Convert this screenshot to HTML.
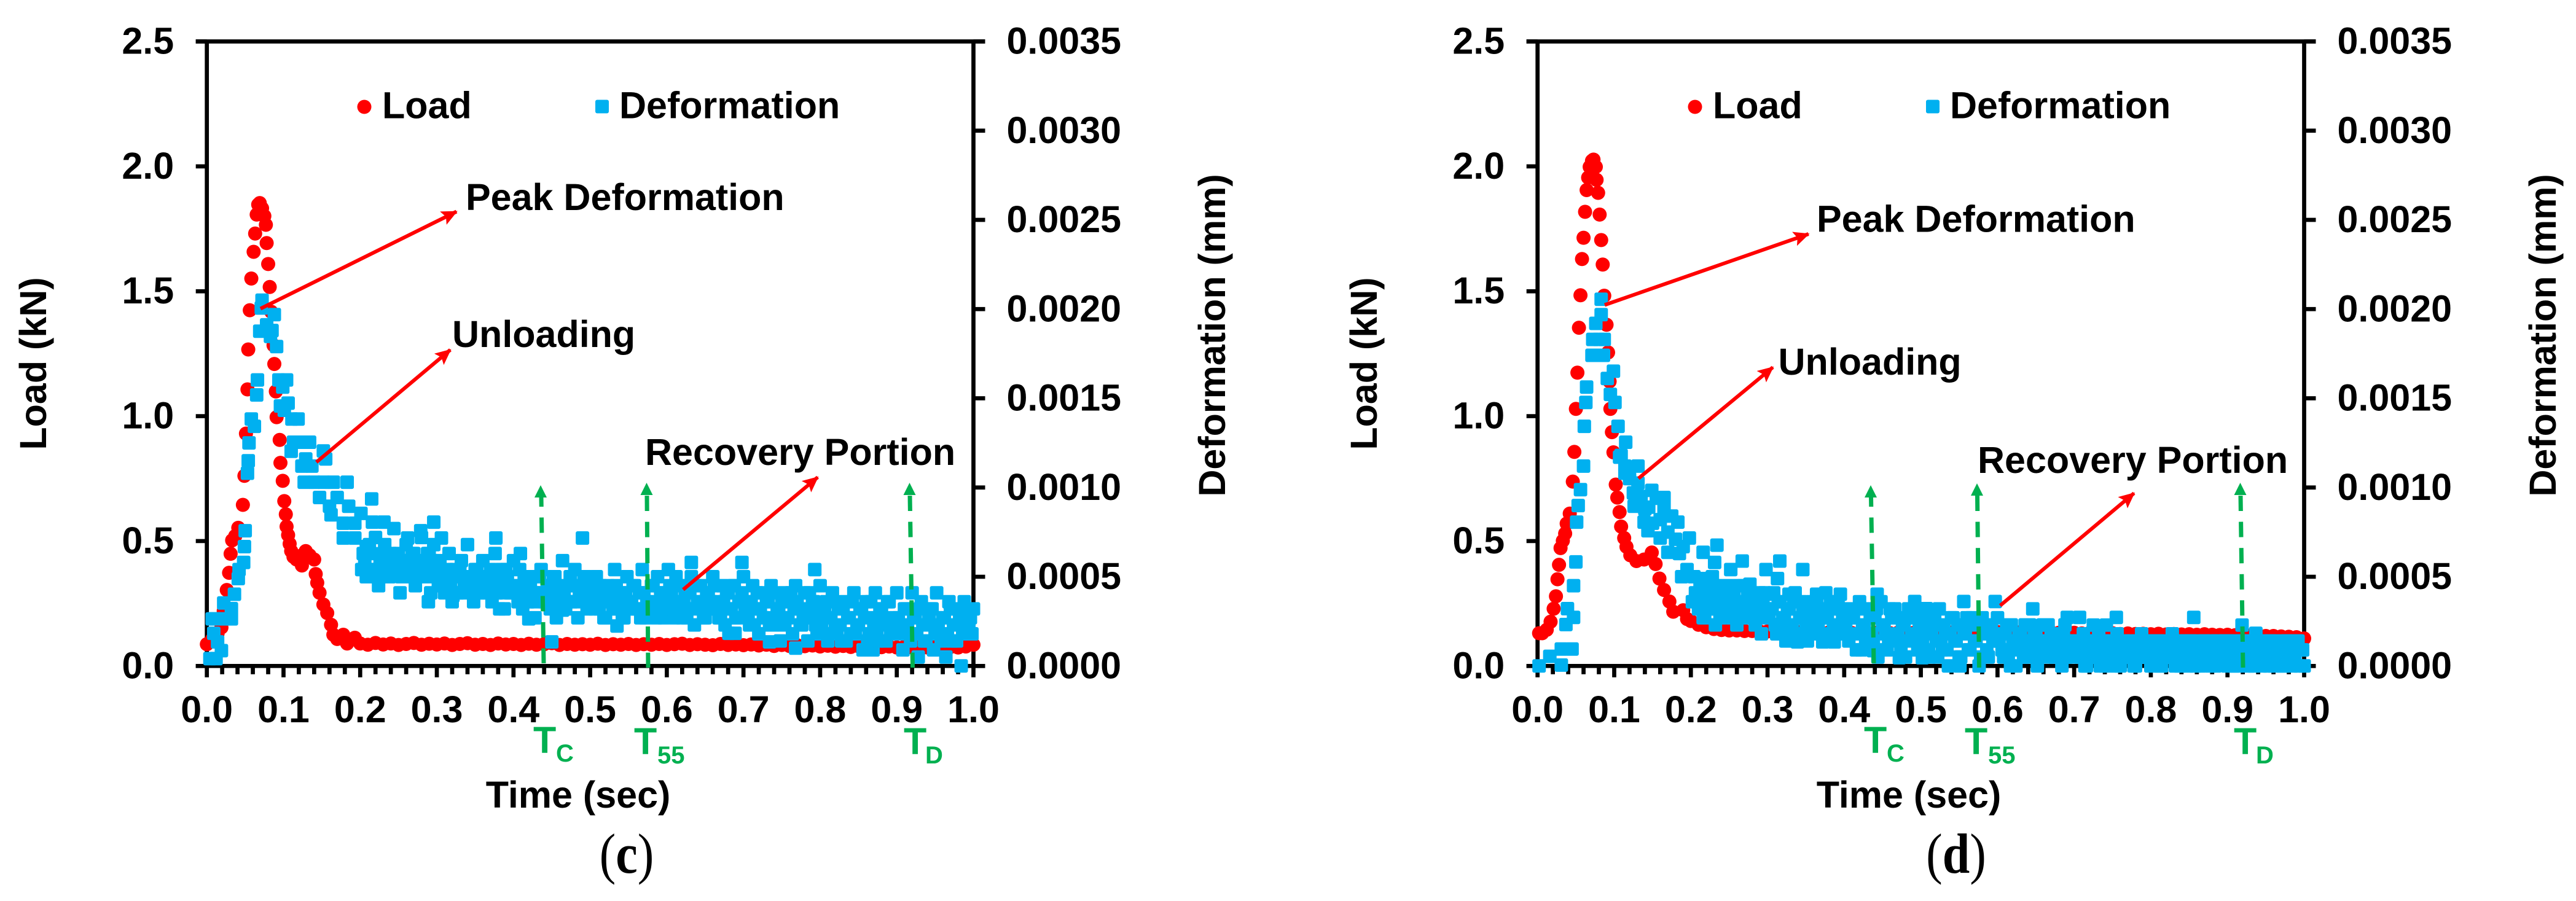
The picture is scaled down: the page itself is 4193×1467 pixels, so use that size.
<!DOCTYPE html>
<html lang="en">
<head>
<meta charset="utf-8">
<title>Load and deformation versus time</title>
<style>
html,body{margin:0;padding:0;background:#fff;width:4193px;height:1467px;overflow:hidden}
svg{display:block}
text{font-family:"Liberation Sans",sans-serif;font-weight:bold;font-size:61px;fill:#000}
.green{fill:#00B050}
.sub{font-size:40px}
.panel-label{font-family:"Liberation Serif",serif;font-weight:normal;font-size:80px}
.panel-label tspan{font-weight:bold}
.red-arrow{stroke:#FF0000;stroke-width:6;fill:none}
.green-line{stroke:#00B050;stroke-width:7;stroke-dasharray:25 17.6;fill:none}
</style>
</head>
<body>
<svg xmlns="http://www.w3.org/2000/svg" width="4193" height="1467" viewBox="0 0 4193 1467">
<defs>
<marker id="red-head" markerUnits="userSpaceOnUse" markerWidth="30" markerHeight="26" refX="24" refY="12" orient="auto">
<path d="M0,0 L26,12 L0,24 L5,12 z" fill="#FF0000"/>
</marker>
</defs>
<rect width="4193" height="1467" fill="#fff"/>

<!-- Panel C -->
<g>
<g id="axes-c"></g>
<g id="load-c"></g>
<g id="deformation-c"></g>

<text x="75" y="592" transform="rotate(-90 75 592)" text-anchor="middle">Load (kN)</text>
<text x="1994" y="546" transform="rotate(-90 1994 546)" text-anchor="middle">Deformation (mm)</text>
<text x="941" y="1315" text-anchor="middle">Time (sec)</text>
<text transform="translate(1020 1421) scale(1 1.15)" text-anchor="middle" class="panel-label">(<tspan>c</tspan>)</text>

<circle cx="593" cy="174" r="11.5" fill="#FF0000"/>
<text x="622" y="192.5">Load</text>
<rect x="969" y="162.5" width="22" height="22" rx="3" fill="#00B0F0"/>
<text x="1008" y="192.5">Deformation</text>

<g>
<line class="green-line" x1="881" y1="809" x2="885" y2="1080" stroke-dashoffset="9"/>
<polygon points="880,790 870,810 890,810" fill="#00B050"/>
<text x="868" y="1226" class="green">T</text>
<text x="905" y="1240" class="green sub">C</text>
</g>
<g>
<line class="green-line" x1="1053" y1="807" x2="1055" y2="1087"/>
<polygon points="1052.5,786 1042.5,806 1062.5,806" fill="#00B050"/>
<text x="1032" y="1228" class="green">T</text>
<text x="1070" y="1243" class="green sub">55</text>
</g>
<g>
<line class="green-line" x1="1481" y1="807" x2="1485.5" y2="1087"/>
<polygon points="1480.5,786 1470.5,806 1490.5,806" fill="#00B050"/>
<text x="1471" y="1228" class="green">T</text>
<text x="1506" y="1243" class="green sub">D</text>
</g>

<line class="red-arrow" x1="424" y1="502.6" x2="743" y2="344.5" marker-end="url(#red-head)"/>
<text x="758" y="342">Peak Deformation</text>
<line class="red-arrow" x1="515" y1="752.5" x2="733" y2="569.6" marker-end="url(#red-head)"/>
<text x="736" y="565">Unloading</text>
<line class="red-arrow" x1="1112" y1="960" x2="1331" y2="777" marker-end="url(#red-head)"/>
<text x="1050" y="757">Recovery Portion</text>
</g>

<!-- Panel D -->
<g>
<g id="axes-d"></g>
<g id="load-d"></g>
<g id="deformation-d"></g>

<text x="2241" y="592" transform="rotate(-90 2241 592)" text-anchor="middle">Load (kN)</text>
<text x="4160" y="546" transform="rotate(-90 4160 546)" text-anchor="middle">Deformation (mm)</text>
<text x="3107" y="1315" text-anchor="middle">Time (sec)</text>
<text transform="translate(3184 1421) scale(1 1.15)" text-anchor="middle" class="panel-label">(<tspan>d</tspan>)</text>

<circle cx="2759" cy="174" r="11.5" fill="#FF0000"/>
<text x="2788" y="192.5">Load</text>
<rect x="3135" y="162.5" width="22" height="22" rx="3" fill="#00B0F0"/>
<text x="3174" y="192.5">Deformation</text>

<g>
<line class="green-line" x1="3045.5" y1="809" x2="3050" y2="1080" stroke-dashoffset="9"/>
<polygon points="3045,790 3035,810 3055,810" fill="#00B050"/>
<text x="3034" y="1226" class="green">T</text>
<text x="3071" y="1240" class="green sub">C</text>
</g>
<g>
<line class="green-line" x1="3218.5" y1="807" x2="3221.5" y2="1087"/>
<polygon points="3218,787 3208,807 3228,807" fill="#00B050"/>
<text x="3198" y="1228" class="green">T</text>
<text x="3236" y="1243" class="green sub">55</text>
</g>
<g>
<line class="green-line" x1="3647" y1="807" x2="3651" y2="1087"/>
<polygon points="3646.5,786 3636.5,806 3656.5,806" fill="#00B050"/>
<text x="3636" y="1228" class="green">T</text>
<text x="3672" y="1243" class="green sub">D</text>
</g>

<line class="red-arrow" x1="2612" y1="496.5" x2="2943.7" y2="381" marker-end="url(#red-head)"/>
<text x="2957" y="377.5">Peak Deformation</text>
<line class="red-arrow" x1="2667" y1="779" x2="2885.7" y2="598" marker-end="url(#red-head)"/>
<text x="2894.5" y="610">Unloading</text>
<line class="red-arrow" x1="3255.7" y1="986" x2="3473.6" y2="803" marker-end="url(#red-head)"/>
<text x="3219" y="770">Recovery Portion</text>
</g>
</svg>

<script>
const timeTicks = [0, 0.1, 0.2, 0.3, 0.4, 0.5, 0.6, 0.7, 0.8, 0.9, 1.0];
const timeTickLabels = ['0.0','0.1','0.2','0.3','0.4','0.5','0.6','0.7','0.8','0.9','1.0'];
const timeMinorTicks = [0.02,0.04,0.06,0.08,0.12,0.14,0.16,0.18,0.22,0.24,0.26,0.28,0.32,0.34,0.36,0.38,0.42,0.44,0.46,0.48,0.52,0.54,0.56,0.58,0.62,0.64,0.66,0.68,0.72,0.74,0.76,0.78,0.82,0.84,0.86,0.88,0.92,0.94,0.96,0.98];
const loadTicks = [0, 0.5, 1.0, 1.5, 2.0, 2.5];
const loadTickLabels = ['0.0','0.5','1.0','1.5','2.0','2.5'];
const deformationTicks = [0, 0.0005, 0.001, 0.0015, 0.002, 0.0025, 0.003, 0.0035];
const deformationTickLabels = ['0.0000','0.0005','0.0010','0.0015','0.0020','0.0025','0.0030','0.0035'];

const loadTailTimes = [.2,.21,.22,.23,.24,.25,.26,.27,.28,.29,.3,.31,.32,.33,.34,.35,.36,.37,.38,.39,.4,.41,.42,.43,.44,.45,.46,.47,.48,.49,.5,.51,.52,.53,.54,.55,.56,.57,.58,.59,.6,.61,.62,.63,.64,.65,.66,.67,.68,.69,.7,.71,.72,.73,.74,.75,.76,.77,.78,.79,.8,.81,.82,.83,.84,.85,.86,.87,.88,.89,.9,.91,.92,.93,.94,.95,.96,.97,.98,.99,1.0];

const deformationTailTimes = [
.204,.208,.212,.216,.22,.224,.228,.232,.236,.24,.244,.248,.252,.256,.26,.264,.268,.272,.276,.28,.284,.288,.292,.296,.3,
.304,.308,.312,.316,.32,.324,.328,.332,.336,.34,.344,.348,.352,.356,.36,.364,.368,.372,.376,.38,.384,.388,.392,.396,.4,
.404,.408,.412,.416,.42,.424,.428,.432,.436,.44,.444,.448,.452,.456,.46,.464,.468,.472,.476,.48,.484,.488,.492,.496,.5,
.504,.508,.512,.516,.52,.524,.528,.532,.536,.54,.544,.548,.552,.556,.56,.564,.568,.572,.576,.58,.584,.588,.592,.596,.6,
.604,.608,.612,.616,.62,.624,.628,.632,.636,.64,.644,.648,.652,.656,.66,.664,.668,.672,.676,.68,.684,.688,.692,.696,.7,
.704,.708,.712,.716,.72,.724,.728,.732,.736,.74,.744,.748,.752,.756,.76,.764,.768,.772,.776,.78,.784,.788,.792,.796,.8,
.804,.808,.812,.816,.82,.824,.828,.832,.836,.84,.844,.848,.852,.856,.86,.864,.868,.872,.876,.88,.884,.888,.892,.896,.9,
.904,.908,.912,.916,.92,.924,.928,.932,.936,.94,.944,.948,.952,.956,.96,.964,.968,.972,.976,.98,.984,.988,.992,.996,1.0];

const deformationFillTimes = [
.202,.206,.21,.214,.218,.222,.226,.23,.234,.238,.242,.246,.25,.254,.258,.262,.266,.27,.274,.278,.282,.286,.29,.294,.298,
.302,.306,.31,.314,.318,.322,.326,.33,.334,.338,.342,.346,.35,.354,.358,.362,.366,.37,.374,.378,.382,.386,.39,.394,.398,
.402,.406,.41,.414,.418,.422,.426,.43,.434,.438,.442,.446,.45,.454,.458,.462,.466,.47,.474,.478,.482,.486,.49,.494,.498,
.502,.506,.51,.514,.518,.522,.526,.53,.534,.538,.542,.546,.55,.554,.558,.562,.566,.57,.574,.578,.582,.586,.59,.594,.598,
.602,.606,.61,.614,.618,.622,.626,.63,.634,.638,.642,.646,.65,.654,.658,.662,.666,.67,.674,.678,.682,.686,.69,.694,.698,
.702,.706,.71,.714,.718,.722,.726,.73,.734,.738,.742,.746,.75,.754,.758,.762,.766,.77,.774,.778,.782,.786,.79,.794,.798,
.802,.806,.81,.814,.818,.822,.826,.83,.834,.838,.842,.846,.85,.854,.858,.862,.866,.87,.874,.878,.882,.886,.89,.894,.898,
.902,.906,.91,.914,.918,.922,.926,.93,.934,.938,.942,.946,.95,.954,.958,.962,.966,.97,.974,.978,.982,.986,.99,.994,.998];

/* Panel (c) */
const loadEarlyTimesC = [0,.007,.014,.019,.022,.026,.029,.031,.033,.037,.041,.047,.049,.051,.053,.054,.056,.058,.061,.063,.065,.067,.069,.072,.075,.077,.078,.08,.082,.084,.087,.088,.09,.091,.095,.096,.099,.101,.103,.104,.106,.108,.11,.113,.117,.124,.124,.129,.134,.14,.142,.144,.147,.152,.157,.162,.165,.17,.178,.183,.193];
const loadEarlyC = [.087,.107,.13,.154,.22,.304,.373,.449,.503,.52,.553,.645,.761,.93,1.107,1.267,1.424,1.551,1.658,1.731,1.807,1.847,1.853,1.832,1.801,1.766,1.693,1.609,1.517,1.418,1.284,1.209,1.099,.996,.905,.813,.741,.66,.607,.558,.524,.489,.46,.437,.426,.402,.443,.46,.443,.426,.368,.333,.293,.246,.212,.165,.125,.108,.125,.09,.113];
const loadTailC = [.09,.085,.092,.086,.09,.084,.088,.092,.085,.089,
.086,.09,.084,.088,.091,.085,.088,.084,.09,.086,
.088,.084,.089,.085,.087,.091,.084,.088,.085,.087,
.085,.089,.084,.087,.085,.088,.084,.087,.085,.088,
.084,.087,.089,.084,.087,.085,.083,.088,.084,.086,
.083,.086,.082,.085,.08,.084,.08,.083,.079,.082,
.078,.081,.077,.08,.076,.079,.076,.078,.075,.078,
.074,.077,.074,.076,.074,.075,.073,.076,.074,.078,.085];
const deformationEarlyTimesC = [.004,.012,.019,.009,.014,.007,.011,.022,.032,.022,.032,.036,.041,.042,.048,.049,.05,.053,.054,.055,.058,.062,.065,.066,.069,.071,.072,.078,.081,.083,.085,.088,.091,.094,.099,.104,.096,.106,.101,.111,.119,.113,.124,.134,.152,.11,.129,.155,.137,.124,.127,.14,.152,.165,.183,.147,.17,.215,.185,.16,.162,.201,.178,.231,.216,.193,.178,.193,.208,.296,.279,.262,.306,.377,.49,.42,.45,.535,.289,.321,.382,.464,.409,.602,.632,.698,.793,.734,.768,.869,.681,.689];
const deformationEarlyC = [.000041,.000041,.000086,.000183,.000135,.000264,.000264,.000264,.000264,.000353,.000321,.000402,.00049,.00054,.00058,.000669,.000758,.00108,.00115,.00125,.001384,.001343,.001519,.001603,.001876,.002006,.00205,.001912,.00188,.001847,.00188,.001969,.00179,.001603,.001563,.001603,.001457,.001473,.001433,.001384,.001384,.001254,.001254,.001254,.001205,.001203,.00116,.00116,.00112,.00112,.00103,.00103,.00103,.00103,.00103,.000944,.000944,.000936,.000895,.000895,.000847,.000855,.0008,.000806,.000806,.0008,.000717,.000717,.000669,.000806,.000758,.000717,.000717,.000717,.000717,.000264,.000135,.000224,.00036,.000394,.00032,.000313,.00063,.00054,.00058,.00058,.00054,.000135,.0001,.00009,.000183,.000183];
const deformationTailC = [
.00063,.00050,.00068,.00054,.00072,.00045,.00059,.00068,.00050,.00063,.00077,.00054,.00041,.00059,.00068,.00050,.00063,.00045,.00059,.00072,.00050,.00063,.00041,.00068,.00054,
.00059,.00045,.00050,.00063,.00036,.00054,.00041,.00059,.00045,.00068,.00050,.00036,.00054,.00041,.00059,.00045,.00050,.00036,.00063,.00041,.00054,.00032,.00050,.00041,.00059,
.00041,.00054,.00032,.00045,.00036,.00050,.00027,.00041,.00054,.00036,.00045,.00032,.00050,.00027,.00041,.00059,.00032,.00045,.00036,.00054,.00027,.00041,.00050,.00032,.00045,
.00036,.00050,.00032,.00041,.00027,.00045,.00036,.00054,.00032,.00041,.00027,.00050,.00036,.00045,.00032,.00041,.00054,.00027,.00036,.00045,.00032,.00050,.00041,.00027,.00036,
.00045,.00032,.00050,.00036,.00027,.00041,.00032,.00050,.00023,.00036,.00045,.00027,.00041,.00032,.00050,.00036,.00027,.00045,.00023,.00041,.00032,.00045,.00027,.00036,.00050,
.00036,.00023,.00045,.00032,.00018,.00041,.00027,.00036,.00045,.00023,.00032,.00014,.00041,.00027,.00036,.00018,.00045,.00032,.00023,.00041,.00014,.00027,.00036,.00018,.00045,
.00027,.00036,.00018,.00041,.00023,.00032,.00014,.00036,.00027,.00018,.00041,.00023,.00032,.00009,.00036,.00018,.00027,.00041,.00014,.00032,.00023,.00036,.00018,.00027,.00041,
.00023,.00009,.00032,.00018,.00041,.00027,.00005,.00036,.00014,.00023,.00032,.00009,.00041,.00018,.00027,.00005,.00036,.00014,.00032,.00023,.00000,.00036,.00018,.00027,.00032];
const deformationFillC = [
.00054,.00059,.00050,.00063,.00054,.00050,.00059,.00063,.00054,.00050,.00059,.00054,.00063,.00050,.00054,.00059,.00050,.00063,.00054,.00059,.00050,.00054,.00063,.00059,.00050,
.00045,.00050,.00041,.00054,.00045,.00041,.00050,.00054,.00041,.00045,.00050,.00041,.00054,.00045,.00050,.00041,.00045,.00054,.00050,.00041,.00045,.00050,.00054,.00041,.00045,
.00045,.00036,.00041,.00050,.00036,.00045,.00041,.00036,.00050,.00041,.00036,.00045,.00041,.00050,.00036,.00045,.00041,.00036,.00050,.00045,.00036,.00041,.00045,.00050,.00036,
.00041,.00032,.00036,.00045,.00027,.00036,.00041,.00032,.00045,.00036,.00027,.00041,.00032,.00036,.00045,.00032,.00027,.00041,.00036,.00032,.00045,.00027,.00036,.00041,.00032,
.00036,.00041,.00027,.00032,.00045,.00036,.00027,.00041,.00032,.00045,.00036,.00032,.00027,.00041,.00036,.00045,.00032,.00027,.00036,.00041,.00032,.00045,.00027,.00036,.00041,
.00032,.00027,.00036,.00023,.00041,.00032,.00027,.00036,.00023,.00041,.00027,.00032,.00036,.00023,.00027,.00041,.00032,.00036,.00023,.00027,.00032,.00041,.00036,.00023,.00032,
.00023,.00032,.00014,.00027,.00036,.00018,.00023,.00032,.00014,.00027,.00036,.00018,.00023,.00032,.00027,.00014,.00036,.00023,.00018,.00032,.00027,.00014,.00036,.00023,.00018,
.00027,.00018,.00032,.00023,.00014,.00027,.00018,.00032,.00023,.00014,.00027,.00032,.00018,.00023,.00014,.00027,.00018,.00032,.00023,.00014,.00027,.00018,.00032,.00023,.00018];

/* Panel (d) */
const loadEarlyTimesD = [.002,.006,.012,.017,.021,.024,.026,.028,.03,.033,.036,.038,.042,.046,.048,.05,.052,.054,.056,.058,.06,.062,.064,.066,.068,.071,.073,.076,.077,.079,.081,.083,.085,.087,.09,.092,.094,.095,.097,.099,.102,.104,.107,.109,.113,.116,.121,.129,.139,.149,.154,.159,.165,.172,.177,.19,.195];
const loadEarlyD = [.131,.131,.145,.177,.229,.279,.347,.405,.472,.501,.53,.57,.61,.738,.857,1.029,1.174,1.354,1.484,1.629,1.714,1.818,1.905,1.955,1.998,2.022,2.027,1.998,1.946,1.894,1.807,1.705,1.607,1.482,1.366,1.255,1.139,1.029,.936,.855,.726,.674,.616,.558,.512,.477,.443,.42,.426,.454,.408,.35,.304,.258,.217,.223,.188];
const loadTailD = [.18,.165,.155,.148,.144,.142,.142,.14,.14,.138,
.138,.136,.137,.135,.136,.134,.135,.133,.134,.133,
.134,.132,.133,.131,.133,.132,.131,.133,.13,.132,
.131,.133,.13,.132,.134,.131,.133,.135,.132,.134,
.136,.138,.134,.136,.133,.135,.132,.134,.133,.131,
.133,.13,.132,.131,.129,.131,.128,.13,.128,.129,
.127,.129,.126,.128,.126,.127,.125,.127,.125,.124,
.125,.123,.124,.122,.122,.12,.12,.118,.117,.115,.11];
const deformationEarlyTimesD = [.002,.016,.031,.031,.045,.037,.047,.039,.047,.05,.051,.053,.056,.06,.061,.063,.064,.071,.078,.086,.072,.08,.087,.076,.083,.083,.091,.099,.095,.101,.105,.115,.109,.107,.114,.114,.131,.131,.149,.165,.126,.165,.139,.183,.144,.16,.198,.234,.17,.19,.216,.231,.267,.316,.346,.298,.188,.213,.252,.313,.221,.277,.224,.239,.298,.328,.364,.395,.443,.492,.507,.556,.597,.272,.313,.321,.339,.372,.387,.438,.472,.502,.551,.617,.646,.691,.707,.755,.856,.919,.937,.725,.659,.742,.12,.125,.135,.14,.145,.15,.155,.16,.17,.175,.18,.185,.195];
const deformationEarlyD = [0,.000054,.000005,.000095,.000095,.000232,.000272,.000321,.00045,.000583,.000806,.000899,.000988,.00112,.001343,.001477,.001563,.001741,.001741,.001741,.00183,.00183,.00183,.00192,.001969,.002055,.001611,.001652,.001522,.001477,.001343,.001254,.00118,.00117,.00112,.00108,.00112,.001025,.000984,.000944,.000895,.000887,.000806,.000806,.000758,.000717,.000717,.000677,.000637,.000669,.000637,.00058,.000588,.000588,.00054,.00054,.0005,.00049,.00054,.00049,.000442,.000458,.000394,.000353,.000402,.000402,.000402,.000402,.000402,.000361,.000321,.000361,.000361,.000272,.000232,.000183,.000135,.000135,.000135,.000086,.000046,.000046,0,0,.00032,.000272,.000272,.000272,.000272,.000229,.000183,.000229,.000229,.000229,.00105,.00097,.00095,.00088,.00089,.0008,.00094,.00082,.00075,.00084,.00071,.00063,.00054];
const deformationTailD = [
.00050,.00036,.00045,.00027,.00041,.00032,.00050,.00023,.00041,.00036,.00027,.00045,.00032,.00041,.00023,.00036,.00045,.00027,.00041,.00032,.00023,.00036,.00018,.00041,.00027,
.00032,.00041,.00018,.00036,.00027,.00014,.00032,.00023,.00041,.00018,.00036,.00027,.00014,.00032,.00023,.00036,.00018,.00027,.00041,.00014,.00032,.00023,.00036,.00018,.00027,
.00032,.00018,.00027,.00009,.00036,.00023,.00014,.00032,.00018,.00027,.00005,.00036,.00023,.00009,.00032,.00018,.00027,.00014,.00023,.00005,.00032,.00018,.00027,.00009,.00023,
.00018,.00027,.00005,.00023,.00014,.00032,.00009,.00018,.00000,.00027,.00014,.00023,.00005,.00018,.00027,.00009,.00023,.00014,.00000,.00027,.00018,.00005,.00023,.00014,.00027,
.00018,.00005,.00023,.00009,.00014,.00000,.00018,.00009,.00023,.00005,.00014,.00018,.00000,.00009,.00023,.00014,.00005,.00018,.00009,.00014,.00000,.00023,.00005,.00014,.00009,
.00014,.00005,.00018,.00000,.00009,.00014,.00005,.00018,.00009,.00000,.00014,.00005,.00009,.00018,.00000,.00014,.00009,.00005,.00014,.00000,.00009,.00018,.00005,.00014,.00000,
.00009,.00014,.00000,.00005,.00014,.00009,.00018,.00000,.00005,.00014,.00009,.00000,.00014,.00005,.00009,.00000,.00014,.00005,.00009,.00014,.00000,.00005,.00009,.00014,.00000,
.00009,.00000,.00014,.00005,.00009,.00014,.00000,.00005,.00009,.00014,.00000,.00009,.00005,.00014,.00000,.00009,.00005,.00000,.00014,.00009,.00000,.00005,.00014,.00009,.00000];
const deformationFillD = [
.00036,.00041,.00032,.00045,.00027,.00036,.00041,.00032,.00045,.00027,.00036,.00032,.00041,.00027,.00036,.00045,.00032,.00027,.00041,.00036,.00032,.00027,.00041,.00036,.00032,
.00027,.00032,.00023,.00036,.00018,.00027,.00032,.00023,.00036,.00018,.00027,.00032,.00023,.00018,.00036,.00027,.00023,.00032,.00018,.00027,.00036,.00023,.00018,.00032,.00027,
.00023,.00014,.00027,.00018,.00032,.00009,.00023,.00018,.00027,.00014,.00032,.00009,.00023,.00018,.00014,.00027,.00032,.00018,.00009,.00023,.00027,.00014,.00018,.00032,.00023,
.00014,.00023,.00009,.00018,.00027,.00005,.00014,.00023,.00009,.00018,.00027,.00014,.00005,.00023,.00018,.00009,.00027,.00014,.00023,.00005,.00018,.00009,.00023,.00014,.00018,
.00014,.00009,.00018,.00005,.00023,.00014,.00009,.00018,.00005,.00014,.00023,.00009,.00018,.00005,.00014,.00009,.00023,.00018,.00005,.00014,.00009,.00018,.00005,.00014,.00009,
.00009,.00005,.00014,.00000,.00009,.00005,.00014,.00009,.00000,.00014,.00005,.00009,.00014,.00000,.00009,.00005,.00014,.00009,.00005,.00000,.00014,.00009,.00005,.00014,.00009,
.00005,.00009,.00014,.00000,.00009,.00005,.00014,.00009,.00005,.00000,.00014,.00009,.00005,.00014,.00000,.00009,.00005,.00014,.00009,.00000,.00005,.00014,.00009,.00005,.00014,
.00014,.00005,.00009,.00000,.00014,.00009,.00005,.00014,.00000,.00009,.00005,.00014,.00009,.00000,.00005,.00014,.00009,.00005,.00000,.00014,.00009,.00005,.00014,.00000,.00009];

const SVG_NS = 'http://www.w3.org/2000/svg';
const PLOT_LEFT = 336.7, PLOT_RIGHT = 1584.5, PLOT_TOP = 67.5, PLOT_BOTTOM = 1084.3;
const LOAD_MAX = 2.5, DEFORMATION_MAX = 0.0035;
function xScale(t, dx) { return dx + PLOT_LEFT + t * (PLOT_RIGHT - PLOT_LEFT); }
function yLoad(v) { return PLOT_BOTTOM - v / LOAD_MAX * (PLOT_BOTTOM - PLOT_TOP); }
function yDeformation(v) { return PLOT_BOTTOM - v / DEFORMATION_MAX * (PLOT_BOTTOM - PLOT_TOP); }

function make(tag, attrs) {
  const el = document.createElementNS(SVG_NS, tag);
  for (const k in attrs) el.setAttribute(k, attrs[k]);
  return el;
}
function axisLine(parent, x1, y1, x2, y2, w, name) {
  const el = make('line', {x1: x1, y1: y1, x2: x2, y2: y2, stroke: '#000', 'stroke-width': w});
  
  
  parent.appendChild(el);
}
function tickLabel(parent, x, y, anchor, label, name) {
  const el = make('text', {x: x, y: y, 'text-anchor': anchor});
  el.textContent = label;
  
  
  parent.appendChild(el);
}
function drawAxes(id, dx) {
  const g = document.getElementById(id);
  const L = xScale(0, dx), R = xScale(1, dx);
  axisLine(g, L - 18, PLOT_TOP, R + 19, PLOT_TOP, 6.7, 'top-border');
  axisLine(g, L - 18, PLOT_BOTTOM, R + 19, PLOT_BOTTOM, 6.7, 'x-axis-line');
  axisLine(g, L, PLOT_TOP, L, PLOT_BOTTOM, 6.7, 'left-axis-line');
  axisLine(g, R, PLOT_TOP, R, PLOT_BOTTOM, 6.7, 'right-axis-line');
  loadTicks.forEach(function (v, i) {
    axisLine(g, L - 18, yLoad(v), L, yLoad(v), 6.7, 'load-tick');
    tickLabel(g, L - 53.5, yLoad(v) + 20, 'end', loadTickLabels[i], 'load-tick-label');
  });
  deformationTicks.forEach(function (v, i) {
    axisLine(g, R, yDeformation(v), R + 19, yDeformation(v), 6.7, 'deformation-tick');
    tickLabel(g, R + 54, yDeformation(v) + 20, 'start', deformationTickLabels[i], 'deformation-tick-label');
  });
  timeTicks.forEach(function (v, i) {
    axisLine(g, xScale(v, dx), PLOT_BOTTOM, xScale(v, dx), PLOT_BOTTOM + 18.5, 6.7, 'time-major-tick');
    tickLabel(g, xScale(v, dx), PLOT_BOTTOM + 91.5, 'middle', timeTickLabels[i], 'time-tick-label');
  });
  timeMinorTicks.forEach(function (v) {
    axisLine(g, xScale(v, dx), PLOT_BOTTOM, xScale(v, dx), PLOT_BOTTOM + 13.5, 6.7, 'time-minor-tick');
  });
}
function drawLoad(id, dx, times, values) {
  const g = document.getElementById(id);
  times.forEach(function (t, i) {
    const el = make('circle', {cx: xScale(t, dx), cy: yLoad(values[i]), r: 11.5, fill: '#FF0000'});
    
    
    g.appendChild(el);
  });
}
function drawDeformation(id, dx, times, values) {
  const g = document.getElementById(id);
  times.forEach(function (t, i) {
    const el = make('rect', {x: xScale(t, dx) - 11, y: yDeformation(values[i]) - 11, width: 22, height: 22, rx: 3, fill: '#00B0F0'});
    
    
    g.appendChild(el);
  });
}

const OFFSET_C = 0, OFFSET_D = 2166;
drawAxes('axes-c', OFFSET_C);
drawLoad('load-c', OFFSET_C, loadEarlyTimesC, loadEarlyC);
drawLoad('load-c', OFFSET_C, loadTailTimes, loadTailC);
drawDeformation('deformation-c', OFFSET_C, deformationEarlyTimesC, deformationEarlyC);
drawDeformation('deformation-c', OFFSET_C, deformationTailTimes, deformationTailC);
drawDeformation('deformation-c', OFFSET_C, deformationFillTimes, deformationFillC);

drawAxes('axes-d', OFFSET_D);
drawLoad('load-d', OFFSET_D, loadEarlyTimesD, loadEarlyD);
drawLoad('load-d', OFFSET_D, loadTailTimes, loadTailD);
drawDeformation('deformation-d', OFFSET_D, deformationEarlyTimesD, deformationEarlyD);
drawDeformation('deformation-d', OFFSET_D, deformationTailTimes, deformationTailD);
drawDeformation('deformation-d', OFFSET_D, deformationFillTimes, deformationFillD);
</script>
</body>
</html>
